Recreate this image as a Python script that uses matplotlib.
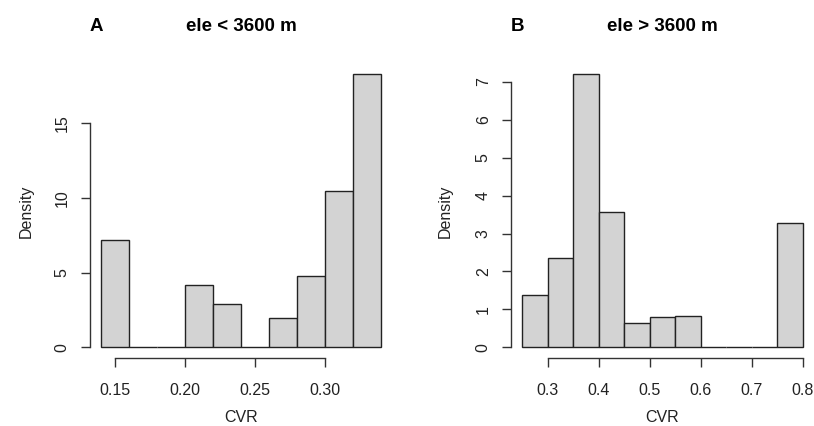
import matplotlib.pyplot as plt

plt.rcParams['font.family'] = ['Liberation Sans', 'DejaVu Sans']

# panel A: ele < 3600 m, bin width 0.02
edges_a = [0.14, 0.16, 0.18, 0.20, 0.22, 0.24, 0.26, 0.28, 0.30, 0.32, 0.34]
dens_a = [7.17, 0, 0, 4.17, 2.92, 0, 1.98, 4.77, 10.49, 18.26]
xticks_a = [0.15, 0.20, 0.25, 0.30]
xticklabels_a = ["0.15", "0.20", "0.25", "0.30"]
yticks_a = [0, 5, 10, 15]

# panel B: ele > 3600 m, bin width 0.05
edges_b = [0.25, 0.30, 0.35, 0.40, 0.45, 0.50, 0.55, 0.60, 0.65, 0.70, 0.75, 0.80]
dens_b = [1.39, 2.35, 7.20, 3.56, 0.63, 0.80, 0.82, 0, 0, 0, 3.29]
xticks_b = [0.3, 0.4, 0.5, 0.6, 0.7, 0.8]
xticklabels_b = ["0.3", "0.4", "0.5", "0.6", "0.7", "0.8"]
yticks_b = [0, 1, 2, 3, 4, 5, 6, 7]

W, H = 814, 426
fig = plt.figure(figsize=(W / 100, H / 100), dpi=100)

bottom = 1 - 358.2 / H
height = (358.2 - 63.5) / H
ax_a = fig.add_axes([89.8 / W, bottom, 302.4 / W, height])
ax_b = fig.add_axes([511.0 / W, bottom, 302.9 / W, height])

FS = 11.5


def draw_hist(ax, edges, dens, xticks, xticklabels, yticks, letter, title):
    widths = [edges[i + 1] - edges[i] for i in range(len(dens))]
    ax.bar(edges[:-1], dens, width=widths, align='edge',
           color='#d3d3d3', edgecolor='#222222', linewidth=1.0)

    # R-style 4% padding around the data range
    xr = edges[-1] - edges[0]
    ymax = max(dens)
    ax.set_xlim(edges[0] - 0.04 * xr, edges[-1] + 0.04 * xr)
    ax.set_ylim(-0.04 * ymax, ymax * 1.04)

    for s in ['top', 'right']:
        ax.spines[s].set_visible(False)
    ax.spines['left'].set_bounds(yticks[0], yticks[-1])
    ax.spines['bottom'].set_bounds(xticks[0], xticks[-1])
    for s in ['left', 'bottom']:
        ax.spines[s].set_color('#333333')
        ax.spines[s].set_linewidth(1.0)

    ax.set_xticks(xticks)
    ax.set_xticklabels(xticklabels)
    ax.set_yticks(yticks)
    ax.tick_params(axis='both', direction='out', length=6.5, width=1.0,
                   color='#333333', labelsize=FS, labelcolor='#222222')
    ax.tick_params(axis='x', pad=11)
    ax.tick_params(axis='y', pad=8)
    for lab in ax.get_yticklabels():
        lab.set_rotation(90)
        lab.set_va('center')

    ax.set_xlabel("CVR", fontsize=FS, color='#222222')
    ax.set_ylabel("Density", fontsize=FS, color='#222222')
    ax.xaxis.label.set_va('center')
    ax.yaxis.label.set_va('center')
    ax.xaxis.set_label_coords(0.5, -0.2)

    ax.text(0.0, 1.124, letter, transform=ax.transAxes, ha='left',
            va='center', fontsize=13.5, fontweight='bold')
    ax.text(0.5, 1.124, title, transform=ax.transAxes, ha='center',
            va='center', fontsize=13.5, fontweight='bold')


draw_hist(ax_a, edges_a, dens_a, xticks_a, xticklabels_a, yticks_a,
          "A", "ele < 3600 m")
ax_a.yaxis.set_label_coords(-0.209, 0.5)
draw_hist(ax_b, edges_b, dens_b, xticks_b, xticklabels_b, yticks_b,
          "B", "ele > 3600 m")
ax_b.yaxis.set_label_coords(-0.218, 0.5)

fig.savefig("out.png", dpi=100)
plt.close(fig)
